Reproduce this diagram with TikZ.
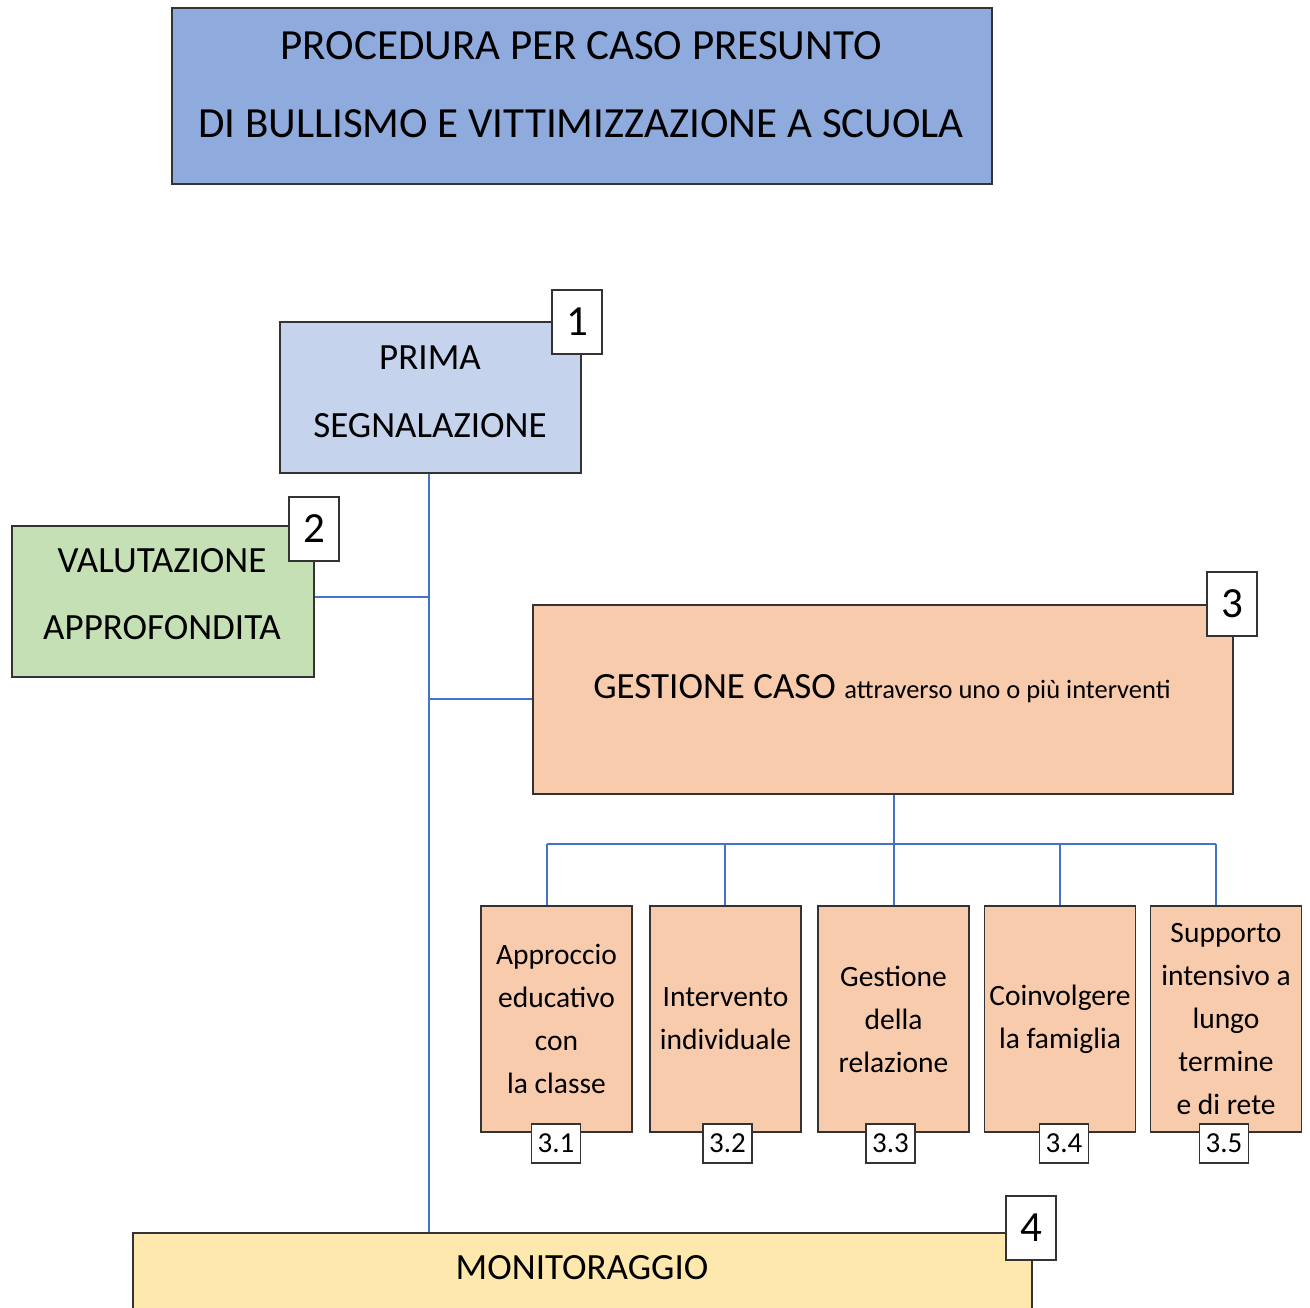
\documentclass[tikz,border=0pt]{standalone}
\usepackage{fontspec}
\setmainfont{Carlito}
\definecolor{titlefill}{HTML}{8FAADC}
\definecolor{primafill}{HTML}{C5D3EC}
\definecolor{valfill}{HTML}{C5E0B4}
\definecolor{gestfill}{HTML}{F8CBAD}
\definecolor{monfill}{HTML}{FFE8AE}
\definecolor{edge}{HTML}{333333}
\definecolor{conncol}{HTML}{4472C4}
\tikzset{
  box/.style={draw=edge, line width=1.1pt, rectangle, inner sep=0pt, align=center},
  lbl/.style={inner sep=0pt, align=center},
  numbox/.style={box, fill=white, minimum width=50pt, minimum height=64pt, font=\fontsize{43}{46}\selectfont},
  subnum/.style={box, fill=white, minimum width=49pt, minimum height=39pt, font=\fontsize{29}{32}\selectfont},
  subbox/.style={box, fill=gestfill, minimum width=151pt, minimum height=226pt, font=\fontsize{29.5}{43}\selectfont},
  conn/.style={draw=conncol, line width=2.2pt},
}
\begin{document}
\begin{tikzpicture}[x=1pt,y=-1pt]
\useasboundingbox (0,0) rectangle (1310,1308);
\clip (0,0) rectangle (1310,1308);
\fill[white] (0,0) rectangle (1310,1308);
% main boxes
\node[box, fill=titlefill, minimum width=820pt, minimum height=176pt] (title) at (582,96) {};
\node[lbl, font=\fontsize{43}{78}\selectfont] (titletext) at (581,85) {PROCEDURA PER CASO PRESUNTO\\DI BULLISMO E VITTIMIZZAZIONE A SCUOLA};
\node[box, fill=primafill, minimum width=301pt, minimum height=151pt] (prima) at (430.5,397.5) {};
\node[lbl, font=\fontsize{37}{68}\selectfont] (primatext) at (430,391.5) {PRIMA\\SEGNALAZIONE};
\node[box, fill=valfill, minimum width=302pt, minimum height=151pt] (valut) at (163,601.5) {};
\node[lbl, font=\fontsize{37}{67}\selectfont] (valtext) at (162,594.5) {VALUTAZIONE\\APPROFONDITA};
\node[box, fill=gestfill, minimum width=700pt, minimum height=189pt] (gest) at (883,699.5) {};
\node[lbl, font=\fontsize{37}{40}\selectfont] (gesttext) at (882,689) {GESTIONE CASO {\fontsize{26.5}{28}\selectfont attraverso uno o più interventi}};
\node[box, fill=monfill, minimum width=899pt, minimum height=110pt] (mon) at (582.5,1288) {};
\node[lbl, font=\fontsize{37}{40}\selectfont] (montext) at (582,1268) {MONITORAGGIO};
% sub boxes
\node[subbox] (s1) at (556.5,1019) {Approccio\\educativo\\con\\la classe};
\node[subbox] (s2) at (725.5,1019) {Intervento\\individuale};
\node[subbox] (s3) at (893.5,1019) {Gestione\\della\\relazione};
\node[subbox] (s4) at (1060,1019) {Coinvolgere\\la famiglia};
\node[subbox] (s5) at (1226,1019) {Supporto\\intensivo a\\lungo\\termine\\e di rete};
% connectors
\coordinate (j1) at (429,597);
\coordinate (j2) at (429,699);
\coordinate (bus) at (894,844);
\coordinate (d1) at (547,844);
\coordinate (d2) at (725,844);
\coordinate (d4) at (1060,844);
\coordinate (d5) at (1216,844);
\draw[conn] (prima.south -| j1) -- (j1 |- mon.north);
\draw[conn] (valut.east |- j1) -- (j1);
\draw[conn] (j2) -- (gest.west |- j2);
\draw[conn] (bus |- gest.south) -- (bus);
\draw[conn] (d1) -- (d5);
\draw[conn] (d1) -- (d1 |- s1.north);
\draw[conn] (d2) -- (d2 |- s2.north);
\draw[conn] (bus) -- (bus |- s3.north);
\draw[conn] (d4) -- (d4 |- s4.north);
\draw[conn] (d5) -- (d5 |- s5.north);
% number boxes
\node[numbox] (n1) at (577,322) {1};
\node[numbox] (n2) at (314,529) {2};
\node[numbox] (n3) at (1232,604) {3};
\node[numbox] (n4) at (1031,1228) {4};
\node[subnum] (n31) at (556,1143.5) {3.1};
\node[subnum] (n32) at (727.5,1143.5) {3.2};
\node[subnum] (n33) at (890.5,1143.5) {3.3};
\node[subnum] (n34) at (1064,1143.5) {3.4};
\node[subnum] (n35) at (1224,1143.5) {3.5};
\end{tikzpicture}
\end{document}
